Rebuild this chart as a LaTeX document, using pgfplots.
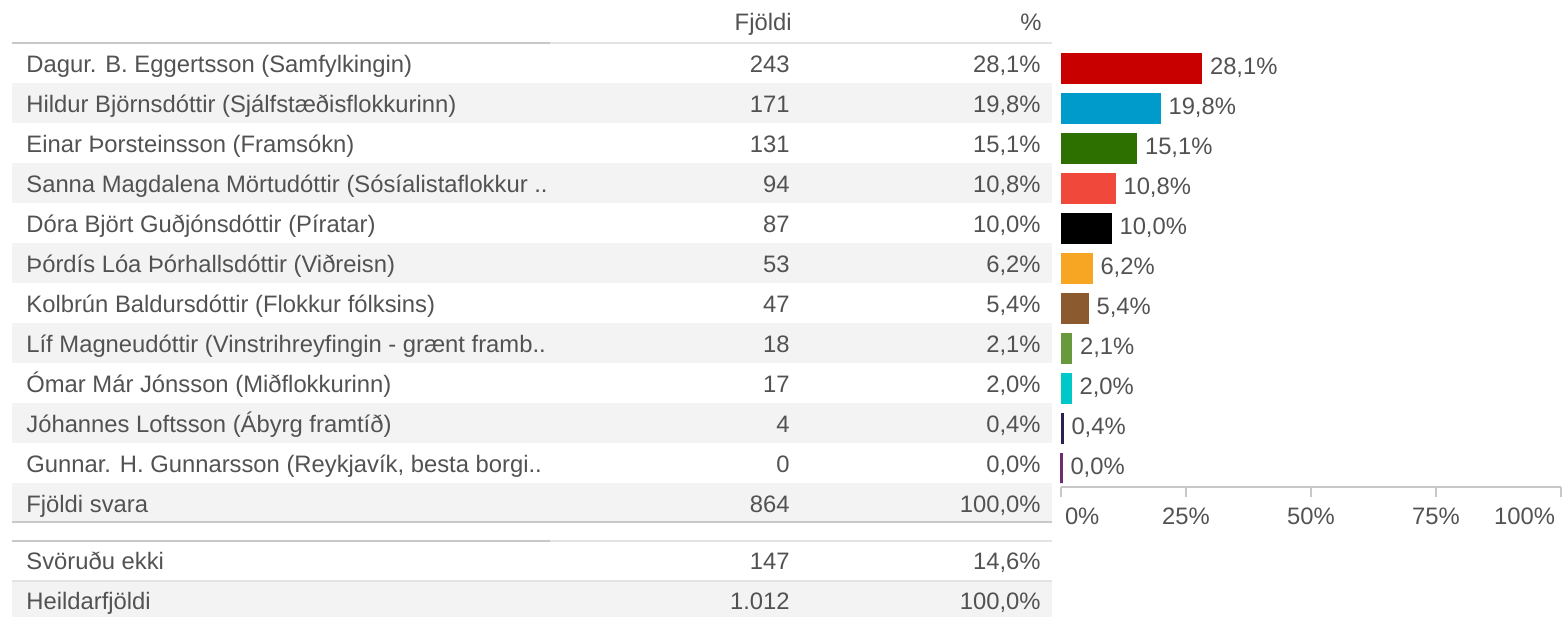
\documentclass[border=0pt]{standalone}
\usepackage{pgfplots}
\pgfplotsset{compat=1.18}
\usepackage{fontspec}
\setmainfont{Liberation Sans}
\definecolor{txt}{HTML}{525252}
\definecolor{band}{HTML}{F3F3F3}
\definecolor{lined}{HTML}{C8C8C8}
\definecolor{linel}{HTML}{E3E3E3}
\definecolor{c1}{HTML}{C80000}
\definecolor{c2}{HTML}{009BCB}
\definecolor{c3}{HTML}{2E7000}
\definecolor{c4}{HTML}{F0483A}
\definecolor{c5}{HTML}{000000}
\definecolor{c6}{HTML}{F6A623}
\definecolor{c7}{HTML}{8B5A2E}
\definecolor{c8}{HTML}{69993F}
\definecolor{c9}{HTML}{00C8C8}
\definecolor{c10}{HTML}{2C1F52}
\definecolor{c11}{HTML}{6C2E6E}
\newcommand{\tf}{\fontsize{11.9}{14}\selectfont}
\begin{document}
\begin{tikzpicture}
\path[use as bounding box] (0,0) rectangle (781pt,-308.5pt);
\begin{scope}[x=0.5pt,y=-0.5pt,font=\tf,text=txt]
  % bands
  \foreach \i in {2,4,6,8,10} {\fill[band] (12,{43+40*(\i-1)}) rectangle (1052,{83+40*(\i-1)});}
  \fill[band] (12,483) rectangle (1052,522);
  \fill[band] (12,581) rectangle (1052,617);
  % lines
  \draw[lined,line width=0.75pt] (12,43) -- (550,43);
  \draw[linel,line width=0.75pt] (550,43) -- (1052,43);
  \draw[lined,line width=1pt] (12,522) -- (1052,522);
  \draw[lined,line width=0.75pt] (12,541) -- (550,541);
  \draw[linel,line width=0.75pt] (550,541) -- (1052,541);
  \draw[linel,line width=0.75pt] (12,581) -- (1052,581);
  % header
  \node[anchor=base east,inner sep=0] at (792,30) {Fjöldi};
  \node[anchor=base east,inner sep=0] at (1042,30) {\%};
  % rows
  \node[anchor=base west,inner sep=0] at (26,72) {Dagur. B. Eggertsson (Samfylkingin)};
  \node[anchor=base east,inner sep=0] at (790,72) {243};
  \node[anchor=base east,inner sep=0] at (1041,72) {28,1\%};
  \node[anchor=base west,inner sep=0] at (26,112) {Hildur Björnsdóttir (Sjálfstæðisflokkurinn)};
  \node[anchor=base east,inner sep=0] at (790,112) {171};
  \node[anchor=base east,inner sep=0] at (1041,112) {19,8\%};
  \node[anchor=base west,inner sep=0] at (26,152) {Einar Þorsteinsson (Framsókn)};
  \node[anchor=base east,inner sep=0] at (790,152) {131};
  \node[anchor=base east,inner sep=0] at (1041,152) {15,1\%};
  \node[anchor=base west,inner sep=0] at (26,192) {Sanna Magdalena Mörtudóttir (Sósíalistaflokkur ..};
  \node[anchor=base east,inner sep=0] at (790,192) {94};
  \node[anchor=base east,inner sep=0] at (1041,192) {10,8\%};
  \node[anchor=base west,inner sep=0] at (26,232) {Dóra Björt Guðjónsdóttir (Píratar)};
  \node[anchor=base east,inner sep=0] at (790,232) {87};
  \node[anchor=base east,inner sep=0] at (1041,232) {10,0\%};
  \node[anchor=base west,inner sep=0] at (26,272) {Þórdís Lóa Þórhallsdóttir (Viðreisn)};
  \node[anchor=base east,inner sep=0] at (790,272) {53};
  \node[anchor=base east,inner sep=0] at (1041,272) {6,2\%};
  \node[anchor=base west,inner sep=0] at (26,312) {Kolbrún Baldursdóttir (Flokkur fólksins)};
  \node[anchor=base east,inner sep=0] at (790,312) {47};
  \node[anchor=base east,inner sep=0] at (1041,312) {5,4\%};
  \node[anchor=base west,inner sep=0] at (26,352) {Líf Magneudóttir (Vinstrihreyfingin - grænt framb..};
  \node[anchor=base east,inner sep=0] at (790,352) {18};
  \node[anchor=base east,inner sep=0] at (1041,352) {2,1\%};
  \node[anchor=base west,inner sep=0] at (26,392) {Ómar Már Jónsson (Miðflokkurinn)};
  \node[anchor=base east,inner sep=0] at (790,392) {17};
  \node[anchor=base east,inner sep=0] at (1041,392) {2,0\%};
  \node[anchor=base west,inner sep=0] at (26,432) {Jóhannes Loftsson (Ábyrg framtíð)};
  \node[anchor=base east,inner sep=0] at (790,432) {4};
  \node[anchor=base east,inner sep=0] at (1041,432) {0,4\%};
  \node[anchor=base west,inner sep=0] at (26,472) {Gunnar. H. Gunnarsson (Reykjavík, besta borgi..};
  \node[anchor=base east,inner sep=0] at (790,472) {0};
  \node[anchor=base east,inner sep=0] at (1041,472) {0,0\%};
  \node[anchor=base west,inner sep=0] at (26,512) {Fjöldi svara};
  \node[anchor=base east,inner sep=0] at (790,512) {864};
  \node[anchor=base east,inner sep=0] at (1041,512) {100,0\%};
  \node[anchor=base west,inner sep=0] at (26,569) {Svöruðu ekki};
  \node[anchor=base east,inner sep=0] at (790,569) {147};
  \node[anchor=base east,inner sep=0] at (1041,569) {14,6\%};
  \node[anchor=base west,inner sep=0] at (26,609) {Heildarfjöldi};
  \node[anchor=base east,inner sep=0] at (790,609) {1.012};
  \node[anchor=base east,inner sep=0] at (1041,609) {100,0\%};
\end{scope}
\begin{axis}[
  at={(530.5pt,-243.5pt)}, anchor=south west,
  scale only axis, width=250pt, height=219.5pt,
  xmin=0, xmax=100, ymin=0.525, ymax=11.5,
  axis y line=none, axis x line*=bottom,
  axis line style={draw=lined,line width=0.75pt},
  xtick={0,25,50,75,100},
  xticklabels={\makebox[0pt][l]{\hspace{2pt}0\%},25\%,50\%,75\%,\makebox[0pt][r]{100\%\hspace{3pt}}},
  xticklabel style={font=\tf,text=txt,yshift=-2pt},
  tick align=outside, major tick length=5pt,
  major tick style={draw=lined,line width=0.75pt},
  ytick=\empty,
  clip=false,
  xbar, bar width=15pt, bar shift=0pt,
  point meta=explicit symbolic,
  nodes near coords,
  every node near coord/.append style={font=\tf,text=txt,inner sep=0pt,anchor=west,xshift=4pt},
]
\addplot[fill=c1,draw=c1,line width=0.5pt] coordinates {(28.1,11) [28,1\%]};
\addplot[fill=c2,draw=c2,line width=0.5pt] coordinates {(19.8,10) [19,8\%]};
\addplot[fill=c3,draw=c3,line width=0.5pt] coordinates {(15.1,9) [15,1\%]};
\addplot[fill=c4,draw=c4,line width=0.5pt] coordinates {(10.8,8) [10,8\%]};
\addplot[fill=c5,draw=c5,line width=0.5pt] coordinates {(10.0,7) [10,0\%]};
\addplot[fill=c6,draw=c6,line width=0.5pt] coordinates {(6.2,6) [6,2\%]};
\addplot[fill=c7,draw=c7,line width=0.5pt] coordinates {(5.4,5) [5,4\%]};
\addplot[fill=c8,draw=c8,line width=0.5pt] coordinates {(2.1,4) [2,1\%]};
\addplot[fill=c9,draw=c9,line width=0.5pt] coordinates {(2.0,3) [2,0\%]};
\addplot[fill=c10,draw=c10,line width=0.5pt] coordinates {(0.4,2) [0,4\%]};
\addplot[fill=c11,draw=c11,line width=1.5pt] coordinates {(0.0,1) [0,0\%]};
\end{axis}
\end{tikzpicture}
\end{document}
